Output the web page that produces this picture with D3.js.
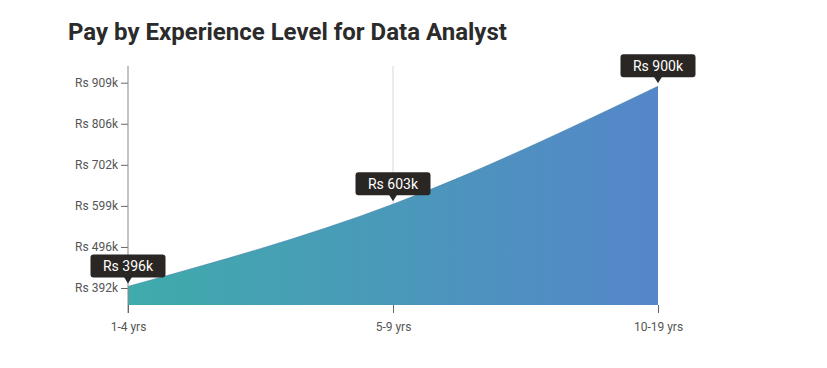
<!DOCTYPE html>
<html><head><meta charset="utf-8">
<script src="https://cdn.jsdelivr.net/npm/d3@7"></script>
<style>body{margin:0;background:#fff;font-family:Roboto,sans-serif;}</style>
</head><body>
<svg id="c" width="827" height="368"></svg>
<script>
const categories = ["1-4 yrs", "5-9 yrs", "10-19 yrs"];
const pay = [396, 603, 900];          // in thousands Rs
const labels = ["Rs 396k", "Rs 603k", "Rs 900k"];
const yTicks = [392.04, 495.43, 598.82, 702.21, 805.6, 909];
const yTickLabels = ["Rs 392k", "Rs 496k", "Rs 599k", "Rs 702k", "Rs 806k", "Rs 909k"];

(function () {
const svg = d3.select("#c");
const mLeft = 128, mRight = 658, mTop = 66, mBottom = 305;

svg.append("text").attr("x", 68).attr("y", 40)
  .attr("font-size", 24).attr("font-weight", 700).attr("fill", "#2b2b2b")
  .text("Pay by Experience Level for Data Analyst");

const x = d3.scalePoint().domain(categories).range([mLeft, mRight]);
const y = d3.scaleLinear().domain([392.04, 909]).range([288, 82.7]);

const defs = svg.append("defs");
const grad = defs.append("linearGradient").attr("id", "g")
  .attr("gradientUnits", "userSpaceOnUse").attr("x1", mLeft).attr("x2", mRight).attr("y1", 0).attr("y2", 0);
grad.append("stop").attr("offset", 0).attr("stop-color", "#3fabab");
grad.append("stop").attr("offset", 1).attr("stop-color", "#5586c9");

// gridline
svg.append("line").attr("x1", x(categories[1])).attr("x2", x(categories[1]))
  .attr("y1", mTop).attr("y2", mBottom).attr("stroke", "#d8d8d8");

const data = categories.map((c, i) => ({c, v: pay[i], l: labels[i]}));
const area = d3.area().x(d => x(d.c)).y0(mBottom).y1(d => y(d.v)).curve(d3.curveMonotoneX);
svg.append("path").datum(data).attr("d", area).attr("fill", "url(#g)");
const line = d3.line().x(d => x(d.c)).y(d => y(d.v)).curve(d3.curveMonotoneX);
svg.append("path").datum(data).attr("d", line).attr("fill", "none")
  .attr("stroke", "#3f7fa8").attr("stroke-opacity", 0.6).attr("stroke-width", 1);

// y axis
const yAxis = svg.append("g").attr("transform", `translate(${mLeft},0)`)
  .call(d3.axisLeft(y).tickValues(yTicks).tickFormat((d, i) => yTickLabels[i]).tickSize(7).tickPadding(3));
yAxis.select(".domain").remove();
yAxis.selectAll("line").attr("stroke", "#666");
yAxis.selectAll("text").attr("font-family", "Roboto").attr("font-size", 12).attr("fill", "#555");
svg.append("line").attr("x1", mLeft).attr("x2", mLeft).attr("y1", mTop).attr("y2", mBottom + 8).attr("stroke", "#888");

// x axis
const xAxis = svg.append("g").attr("transform", `translate(0,${mBottom})`)
  .call(d3.axisBottom(x).tickSize(8).tickPadding(9));
xAxis.select(".domain").remove();
xAxis.selectAll("line").attr("stroke", "#666");
xAxis.selectAll("text").attr("font-family", "Roboto").attr("font-size", 12).attr("fill", "#555");

// labels
const bw = 75, bh = 23;
const g = svg.selectAll(".tip").data(data).enter().append("g")
  .attr("transform", d => `translate(${x(d.c)},${y(d.v)})`);
g.append("rect").attr("x", -bw / 2).attr("y", -9 - bh).attr("width", bw).attr("height", bh)
  .attr("rx", 3).attr("fill", "#2a2624");
g.append("path").attr("d", "M-4,-9.5L4,-9.5L0,-3Z").attr("fill", "#2a2624");
g.append("text").attr("y", -9 - bh / 2 + 5).attr("text-anchor", "middle")
  .attr("font-size", 14).attr("fill", "#fff").text(d => d.l);
})();
</script>
</body></html>
